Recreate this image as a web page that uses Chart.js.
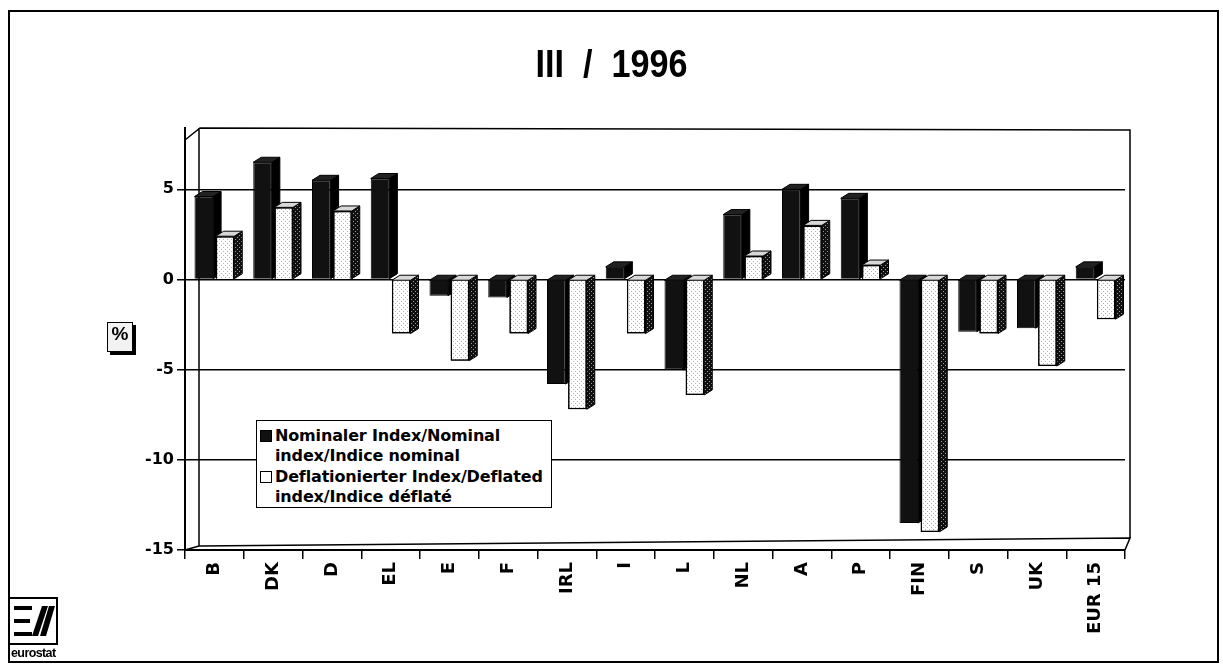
<!DOCTYPE html>
<html>
<head>
<meta charset="utf-8">
<script src="https://cdn.jsdelivr.net/npm/chart.js@4.4.1/dist/chart.umd.min.js"></script>
<style>
    html, body { margin: 0; padding: 0; background: #fff; }
    #wrap { position: relative; width: 1223px; height: 666px; overflow: hidden; }
    #frame { position: absolute; left: 8px; top: 10px; width: 1207px; height: 649px; border: 2px solid #000; pointer-events: none; }
    #title { position: absolute; left: 0; width: 1223px; top: 43px; text-align: center; white-space: pre;
             font: bold 38px "Liberation Sans", Arial, sans-serif; transform: scaleX(0.9); }
    #legend { position: absolute; left: 256px; top: 420px; width: 294px; height: 86px; border: 1.5px solid #000;
              background: #fff; font: bold 16px "DejaVu Sans", Arial, sans-serif; letter-spacing: -0.15px; }
    #legend .row { position: absolute; left: 3px; line-height: 20px; }
    #legend .sw { position: absolute; left: 0; top: 4px; width: 10px; height: 10px; border: 1.5px solid #000; }
    #legend .txt { position: absolute; left: 15px; top: 0; white-space: nowrap; }
    #pct { position: absolute; left: 107px; top: 322px; width: 24px; height: 28px; border: 1.5px solid #000;
           box-shadow: 3px 3px 0 #000; background: #f2f2f2; text-align: center; line-height: 28px;
           font: bold 19px "Liberation Sans", Arial, sans-serif; }
    #logo { position: absolute; left: 8px; top: 597px; }
</style>
</head>
<body>
<div id="wrap">
    <canvas id="myChart"></canvas>
    <div id="title">III  /  1996</div>
    <div id="pct">%</div>
    <div id="legend">
        <div class="row" style="top:5px"><span class="sw" style="background:#111"></span><span class="txt">Nominaler Index/Nominal<br>index/Indice nominal</span></div>
        <div class="row" style="top:46px"><span class="sw" style="background:#fff"></span><span class="txt">Deflationierter Index/Deflated<br>index/Indice déflaté</span></div>
    </div>
    <svg id="logo" width="52" height="64" viewBox="0 0 52 64">
        <rect x="1" y="1" width="48" height="46" fill="#fff" stroke="#000" stroke-width="2"/>
        <rect x="6" y="9" width="18" height="4" fill="#000"/>
        <rect x="6" y="22" width="16" height="4" fill="#000"/>
        <rect x="6" y="35" width="18" height="4" fill="#000"/>
        <polygon points="24,39 30,39 40,9 34,9" fill="#000"/>
        <polygon points="32,39 38,39 47,9 41,9" fill="#000"/>
        <line x1="1" y1="47" x2="1" y2="63" stroke="#000" stroke-width="2"/>
        <text x="3" y="60" font-family="Liberation Sans, Arial" font-weight="bold" font-size="12.5" letter-spacing="-0.6">eurostat</text>
    </svg>
    <div id="frame"></div>
</div>
<script>
const countries = ["B", "DK", "D", "EL", "E", "F", "IRL", "I", "L", "NL", "A", "P", "FIN", "S", "UK", "EUR 15"];
const nominal = [4.6, 6.5, 5.5, 5.6, -0.9, -1.0, -5.8, 0.7, -5.0, 3.6, 5.0, 4.5, -13.5, -2.9, -2.7, 0.7];
const deflated = [2.4, 4.0, 3.8, -3.0, -4.5, -3.0, -7.2, -3.0, -6.4, 1.3, 3.0, 0.8, -14.0, -3.0, -4.8, -2.2];
const yTicks = [-15, -10, -5, 0, 5];

// stipple patterns for the dotted print look
function makePattern(bg, dot) {
    const c = document.createElement("canvas");
    c.width = 4; c.height = 4;
    const g = c.getContext("2d");
    g.fillStyle = bg; g.fillRect(0, 0, 4, 4);
    g.fillStyle = dot; g.fillRect(1, 1, 1, 1); g.fillRect(3, 3, 1, 1);
    return g.createPattern(c, "repeat");
}

document.addEventListener("DOMContentLoaded", function () {
    const canvas = document.getElementById("myChart");
    canvas.parentNode.style.width = "1223px";
    const ctx = canvas.getContext("2d");
    const lightFill = makePattern("#ffffff", "#b0b0b0");
    const darkSide = makePattern("#111111", "#9a9a9a");

    const dx = 8, dy = 5;

    function faces(c, el, dark) {
        const p = el.getProps(["x", "y", "base", "width"], true);
        const l = p.x - p.width / 2, r = p.x + p.width / 2;
        const t = Math.min(p.y, p.base), b = Math.max(p.y, p.base);
        c.save();
        c.lineWidth = 1;
        c.strokeStyle = "#000";
        c.beginPath();
        c.moveTo(r, t); c.lineTo(r + dx, t - dy); c.lineTo(r + dx, b - dy); c.lineTo(r, b); c.closePath();
        c.fillStyle = dark ? "#000" : darkSide; c.fill(); c.stroke();
        c.beginPath();
        c.moveTo(l, t); c.lineTo(l + dx, t - dy); c.lineTo(r + dx, t - dy); c.lineTo(r, t); c.closePath();
        c.fillStyle = dark ? "#222" : "#d8d8d8"; c.fill(); c.stroke();
        c.restore();
    }

    // 3D faces: dark bar faces first, then the light bar is drawn again on top with its faces
    const bars3d = {
        id: "bars3d",
        afterDatasetsDraw(chart) {
            const c = chart.ctx;
            const darkMeta = chart.getDatasetMeta(0);
            const lightMeta = chart.getDatasetMeta(1);
            darkMeta.data.forEach(el => faces(c, el, true));
            lightMeta.data.forEach(el => {
                el.draw(c);
                faces(c, el, false);
            });
        }
    };

    // back wall frame of the 3D box
    const wall = {
        id: "wall",
        beforeDatasetsDraw(chart) {
            const a = chart.chartArea, c = chart.ctx;
            c.save();
            c.strokeStyle = "#000";
            c.lineWidth = 1.5;
            c.beginPath();
            c.moveTo(a.left, a.top + 12); c.lineTo(a.left + 15, a.top);
            c.lineTo(a.right + 5, a.top + 2); c.lineTo(a.right + 5, a.bottom - 12);
            c.moveTo(a.left + 14, a.top); c.lineTo(a.left + 14, a.bottom - 4);
            c.moveTo(a.left, a.bottom); c.lineTo(a.left + 14, a.bottom - 4);
            c.lineTo(a.right + 5, a.bottom - 12); c.lineTo(a.right, a.bottom);
            c.stroke();
            c.restore();
        }
    };

    new Chart(ctx, {
        type: "bar",
        data: {
            labels: countries,
            datasets: [{
                label: "Nominaler Index/Nominal index/Indice nominal",
                data: nominal,
                backgroundColor: "#111",
                borderColor: "#000",
                borderWidth: 1
            }, {
                label: "Deflationierter Index/Deflated index/Indice déflaté",
                data: deflated,
                backgroundColor: lightFill,
                borderColor: "#000",
                borderWidth: 1.5
            }]
        },
        options: {
            responsive: true,
            maintainAspectRatio: false,
            animation: false,
            layout: { padding: { top: 128, right: 98, left: 0, bottom: 0 } },
            datasets: { bar: { barPercentage: 0.88, categoryPercentage: 0.72 } },
            scales: {
                x: {
                    grid: { display: true, drawOnChartArea: false, offset: true, color: "#000", lineWidth: 1.5, tickLength: 9 },
                    border: { color: "#000", width: 2 },
                    ticks: {
                        color: "#000", maxRotation: 90, minRotation: 90, padding: 3,
                        font: { family: "DejaVu Sans", weight: "bold", size: 18 }
                    },
                    afterFit(s) { s.height = 116; }
                },
                y: {
                    min: -15,
                    max: 8.4,
                    afterBuildTicks(s) { s.ticks = yTicks.map(v => ({ value: v })); },
                    grid: { color: "#000", lineWidth: 1.5, tickLength: 8 },
                    border: { color: "#000", width: 2 },
                    ticks: {
                        color: "#000", padding: 3,
                        font: { family: "DejaVu Sans", weight: "bold", size: 16 }
                    },
                    afterFit(s) { s.width = 185; }
                }
            },
            plugins: {
                legend: { display: false },
                title: { display: false },
                tooltip: { enabled: false }
            }
        },
        plugins: [wall, bars3d]
    });
});
</script>
</body>
</html>
